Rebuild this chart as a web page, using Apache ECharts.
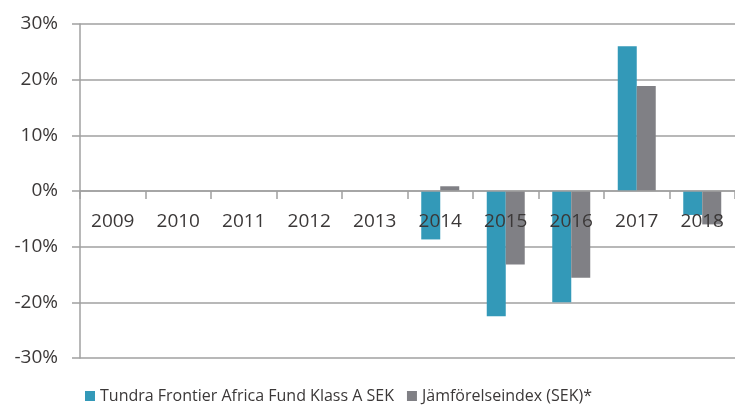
<!DOCTYPE html>
<html><head><meta charset="utf-8">
<script src="https://cdn.jsdelivr.net/npm/echarts@6/dist/echarts.min.js"></script>
<style>html,body{margin:0;padding:0;background:#fff}#c{width:735px;height:407px}</style>
</head><body><div id="c"></div>
<script>
const years = ['2009','2010','2011','2012','2013','2014','2015','2016','2017','2018'];
const fund = [null,null,null,null,null,-8.7,-22.5,-20.0,26.0,-4.3];
const index = [null,null,null,null,null,0.85,-13.2,-15.6,18.85,-6.0];
const seriesNames = ['Tundra Frontier Africa Fund Klass A SEK','Jämförelseindex (SEK)*'];
const FONT = '"Open Sans", "Noto Sans", sans-serif';
const TXT = '#3b3838';
const chart = echarts.init(document.getElementById('c'));
chart.setOption({
  animation:false,
  textStyle:{fontFamily:FONT},
  grid:{left:80,right:0,top:24,bottom:49,containLabel:false},
  legend:{
    data:seriesNames, left:80, top:383, icon:'rect', itemWidth:10, itemHeight:10, itemGap:13,
    textStyle:{fontSize:16,color:TXT,fontFamily:FONT}
  },
  xAxis:{
    type:'category', data:years, position:'bottom', offset:-167, z:10,
    axisLine:{onZero:false,lineStyle:{color:'#a0a0a0',width:1.5}},
    axisTick:{show:true,alignWithLabel:false,length:8,lineStyle:{color:'#a0a0a0',width:1.5}},
    axisLabel:{color:TXT,fontSize:19,margin:21,fontFamily:FONT}
  },
  yAxis:{
    type:'value', min:-30, max:30, interval:10,
    axisLine:{show:true,lineStyle:{color:'#a0a0a0',width:1.5}},
    axisTick:{show:true,length:8,lineStyle:{color:'#a0a0a0',width:1.5}},
    splitLine:{lineStyle:{color:'#a0a0a0',width:1.5}},
    axisLabel:{color:TXT,fontSize:19,margin:22,formatter:'{value}%',fontFamily:FONT}
  },
  series:[
    {name:seriesNames[0],type:'bar',data:fund,itemStyle:{color:'#3399b8'},barGap:'0%',barCategoryGap:'42%'},
    {name:seriesNames[1],type:'bar',data:index,itemStyle:{color:'#808085'},barGap:'0%',barCategoryGap:'42%'}
  ]
});
</script></body></html>
